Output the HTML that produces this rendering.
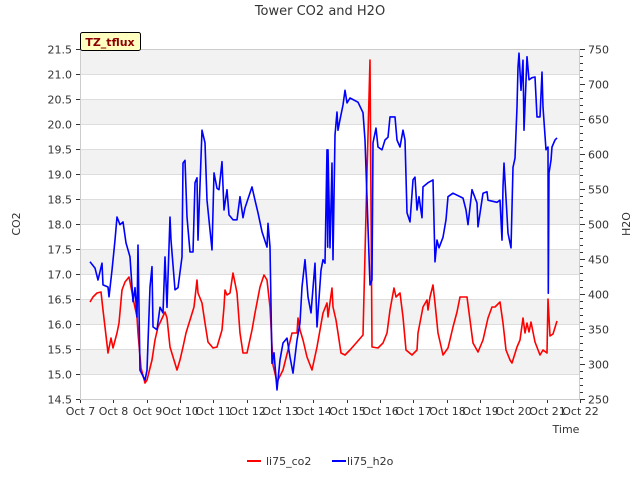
<!DOCTYPE html>
<html><head><meta charset="utf-8"><style>
body{margin:0;background:#fff;font-family:"Liberation Sans","DejaVu Sans",sans-serif;}
svg text{font-family:"DejaVu Sans","Liberation Sans",sans-serif;}
</style></head><body>
<svg id="chart" width="640" height="480" xmlns="http://www.w3.org/2000/svg">
<text x="320" y="15" text-anchor="middle" font-size="13" fill="#333">Tower CO2 and H2O</text>
<g id="bands"></g><g id="axes"></g><g id="series"></g>
<g>
<rect x="80.5" y="32.5" width="60" height="18" fill="#ffffc0" stroke="#000" rx="2"/>
<text x="110" y="46" text-anchor="middle" font-size="11" font-weight="bold" fill="#8b0000">TZ_tflux</text>
</g>
<text x="20" y="224" font-size="11" fill="#333" text-anchor="middle" transform="rotate(-90 20 224)">CO2</text>
<text x="630" y="224" font-size="11" fill="#333" text-anchor="middle" transform="rotate(-90 630 224)">H2O</text>
<text x="566" y="433" font-size="11" fill="#333" text-anchor="middle">Time</text>
<g><line x1="247" y1="461" x2="261" y2="461" stroke="#f00" stroke-width="2"/><text x="266" y="465" font-size="11" fill="#333">li75_co2</text></g>
<g><line x1="332" y1="461" x2="346" y2="461" stroke="#00f" stroke-width="2"/><text x="347" y="465" font-size="11" fill="#333">li75_h2o</text></g>
</svg>
<script>
const xTickLabels=["Oct 7","Oct 8","Oct 9","Oct 10","Oct 11","Oct 12","Oct 13","Oct 14","Oct 15","Oct 16","Oct 17","Oct 18","Oct 19","Oct 20","Oct 21","Oct 22"];
const leftTicks=[14.5,15.0,15.5,16.0,16.5,17.0,17.5,18.0,18.5,19.0,19.5,20.0,20.5,21.0,21.5];
const rightTicks=[250,300,350,400,450,500,550,600,650,700,750];
const co2Days=[0.30,0.39,0.51,0.63,0.69,0.75,0.84,0.93,0.99,1.11,1.17,1.26,1.35,1.47,1.53,1.59,1.71,1.74,1.83,1.95,2.01,2.16,2.25,2.34,2.55,2.61,2.70,2.91,3.00,3.09,3.18,3.30,3.42,3.51,3.54,3.66,3.75,3.84,3.99,4.11,4.26,4.32,4.35,4.41,4.50,4.59,4.71,4.80,4.89,5.01,5.16,5.25,5.40,5.52,5.61,5.70,5.79,5.91,6.09,6.24,6.36,6.51,6.54,6.60,6.69,6.81,6.96,7.11,7.29,7.41,7.44,7.56,7.59,7.68,7.74,7.83,7.95,8.10,8.31,8.49,8.61,8.70,8.76,8.94,9.09,9.21,9.30,9.42,9.48,9.60,9.69,9.78,9.96,10.11,10.14,10.29,10.41,10.44,10.50,10.59,10.65,10.74,10.89,11.04,11.19,11.31,11.40,11.61,11.70,11.79,11.94,12.09,12.24,12.36,12.45,12.60,12.69,12.78,12.90,12.96,13.11,13.20,13.29,13.35,13.41,13.47,13.53,13.65,13.80,13.89,14.01,14.04,14.10,14.19,14.31];
const co2Values=[16.44,16.54,16.62,16.64,16.28,15.94,15.42,15.72,15.52,15.82,16.02,16.68,16.84,16.94,16.74,16.52,16.14,15.82,15.12,14.82,14.88,15.28,15.68,15.94,16.24,16.12,15.54,15.08,15.28,15.54,15.82,16.08,16.34,16.88,16.62,16.42,16.02,15.64,15.52,15.54,15.88,16.34,16.68,16.58,16.62,17.02,16.62,15.82,15.42,15.42,15.88,16.22,16.74,16.98,16.88,16.34,15.18,14.84,15.08,15.48,15.82,15.82,16.12,15.88,15.68,15.34,15.08,15.54,16.22,16.42,16.14,16.72,16.34,16.08,15.82,15.42,15.38,15.48,15.64,15.78,19.02,21.28,15.54,15.52,15.62,15.82,16.28,16.72,16.54,16.62,16.14,15.48,15.38,15.48,15.82,16.34,16.48,16.28,16.54,16.78,16.42,15.82,15.38,15.52,15.94,16.24,16.54,16.54,16.08,15.62,15.44,15.68,16.12,16.34,16.34,16.44,16.02,15.48,15.28,15.22,15.54,15.68,16.12,15.82,16.02,15.84,16.04,15.64,15.38,15.48,15.42,16.50,15.76,15.80,16.06];
const h2oDays=[0.30,0.45,0.54,0.66,0.69,0.84,0.87,0.96,1.05,1.11,1.20,1.29,1.38,1.50,1.59,1.65,1.71,1.74,1.80,1.95,2.01,2.10,2.16,2.19,2.31,2.40,2.49,2.55,2.61,2.70,2.73,2.85,2.94,3.06,3.09,3.15,3.21,3.30,3.39,3.45,3.51,3.54,3.66,3.75,3.81,3.96,4.02,4.11,4.17,4.26,4.32,4.41,4.47,4.59,4.71,4.80,4.89,4.95,5.16,5.25,5.34,5.46,5.61,5.64,5.70,5.76,5.82,5.91,6.00,6.09,6.21,6.30,6.39,6.51,6.60,6.66,6.75,6.84,6.93,7.05,7.11,7.23,7.29,7.35,7.41,7.43,7.44,7.50,7.56,7.59,7.65,7.71,7.74,7.80,7.89,7.95,8.01,8.10,8.34,8.49,8.55,8.70,8.76,8.79,8.88,8.94,9.06,9.15,9.24,9.30,9.45,9.51,9.60,9.69,9.75,9.81,9.90,9.99,10.05,10.11,10.17,10.26,10.29,10.44,10.59,10.65,10.71,10.77,10.89,10.98,11.04,11.19,11.49,11.58,11.64,11.76,11.91,11.94,12.09,12.21,12.24,12.51,12.60,12.66,12.69,12.72,12.84,12.93,12.99,13.05,13.11,13.14,13.17,13.23,13.29,13.32,13.41,13.47,13.56,13.65,13.71,13.80,13.86,13.89,13.98,14.04,14.05,14.07,14.13,14.16,14.25,14.31];
const h2oValues=[446,437,420,444,413,410,396,434,477,510,499,503,473,453,389,409,367,470,291,277,291,410,439,353,349,381,373,453,381,510,477,406,409,453,587,591,510,460,460,559,566,477,634,616,534,463,573,551,549,589,520,549,513,506,506,539,509,523,553,534,516,489,467,501,467,301,316,263,306,330,337,310,287,334,359,410,449,396,373,444,353,434,449,444,606,467,606,466,587,449,627,660,634,649,670,691,673,680,674,659,620,413,420,616,637,610,606,620,624,653,653,620,610,634,620,516,503,563,567,520,539,509,553,559,563,446,477,466,481,506,539,544,537,520,499,549,530,496,544,546,534,531,534,477,553,587,487,466,581,594,667,724,744,691,734,634,739,706,709,710,653,653,717,667,606,610,401,573,591,610,620,623];

const NS="http://www.w3.org/2000/svg";
const L=80,R=580,T=49,B=399;
const xS=d=>L+d*(R-L)/15;
const yL=v=>B-(v-14.5)*(B-T)/7;
const yR=v=>B-(v-250)*(B-T)/500;
function mk(tag,attrs,parent){const e=document.createElementNS(NS,tag);for(const k in attrs)e.setAttribute(k,attrs[k]);parent.appendChild(e);return e;}
const bands=document.getElementById('bands'),axes=document.getElementById('axes'),series=document.getElementById('series');
mk('rect',{x:L,y:T,width:R-L,height:B-T,fill:'#fff'},bands);
for(let i=0;i<leftTicks.length-1;i++){
  const hi=leftTicks[leftTicks.length-1-i],lo=leftTicks[leftTicks.length-2-i];
  if(i%2===0){const r=mk('rect',{x:L,y:yL(hi),width:R-L,height:yL(lo)-yL(hi),fill:'#f2f2f2'},bands);
  
  }
}
leftTicks.forEach(v=>{
  const y=Math.round(yL(v))+0.5;
  mk('line',{x1:L,x2:R,y1:y,y2:y,stroke:'#ddd'},bands);
  mk('line',{x1:L-4,x2:L,y1:y,y2:y,stroke:'#333'},axes);
  const t=mk('text',{x:L-8,y:y+4,'text-anchor':'end','font-size':'11',fill:'#333'},axes);
  t.textContent=v.toFixed(1);
  
  
});
for(let v=250;v<=750;v+=10){const y=Math.round(yR(v))+0.5;mk('line',{x1:R,x2:R+(v%50===0?5:3),y1:y,y2:y,stroke:'#333'},axes);}
rightTicks.forEach(v=>{
  const y=Math.round(yR(v))+0.5;
  const t=mk('text',{x:R+8,y:y+4,'font-size':'11',fill:'#333'},axes);
  t.textContent=v;
  
  
});
xTickLabels.forEach((s,i)=>{
  const x=Math.round(xS(i))+0.5;
  mk('line',{x1:x,x2:x,y1:B,y2:B+4,stroke:'#333'},axes);
  const t=mk('text',{x:x,y:B+16,'text-anchor':'middle','font-size':'11',fill:'#333'},axes);
  t.textContent=s;
  
  
});
mk('rect',{x:L+0.5,y:T+0.5,width:R-L-1,height:B-T,fill:'none',stroke:'#ccc'},axes);
const pc=mk('polyline',{points:co2Days.map((d,i)=>xS(d).toFixed(1)+','+yL(co2Values[i]).toFixed(1)).join(' '),fill:'none',stroke:'#f00','stroke-width':'1.6','stroke-linejoin':'round'},series);


const ph=mk('polyline',{points:h2oDays.map((d,i)=>xS(d).toFixed(1)+','+yR(h2oValues[i]).toFixed(1)).join(' '),fill:'none',stroke:'#00f','stroke-width':'1.6','stroke-linejoin':'round'},series);


</script>
</body></html>
